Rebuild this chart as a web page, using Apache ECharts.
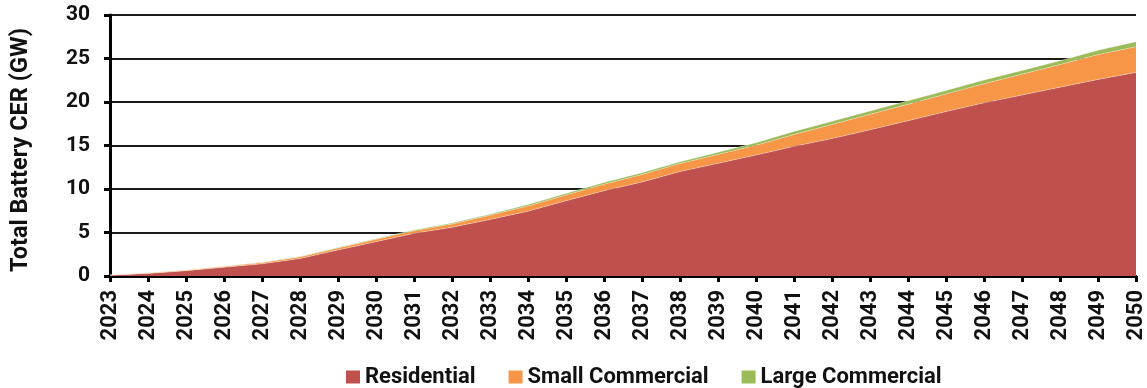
<!DOCTYPE html>
<html>
<head>
<meta charset="utf-8">
<script src="https://cdn.jsdelivr.net/npm/echarts@6/dist/echarts.min.js"></script>
<style>
  html, body { margin: 0; padding: 0; background: #fff; }
  #chart { width: 1147px; height: 388px; }
</style>
</head>
<body>
<div id="chart"></div>
<script>
// Installed battery capacity by customer segment, GW (stacked)
const years = ['2023','2024','2025','2026','2027','2028','2029','2030','2031','2032',
  '2033','2034','2035','2036','2037','2038','2039','2040','2041','2042',
  '2043','2044','2045','2046','2047','2048','2049','2050'];

const residential = [0.1, 0.3, 0.6, 1.0, 1.4, 2.0, 3.0, 3.95, 4.9, 5.6,
  6.5, 7.45, 8.65, 9.8, 10.8, 12.0, 12.95, 13.9, 14.9, 15.8,
  16.8, 17.85, 18.9, 19.9, 20.8, 21.7, 22.6, 23.4];

const smallCommercial = [0.01, 0.05, 0.08, 0.1, 0.14, 0.2, 0.22, 0.26, 0.3, 0.38,
  0.48, 0.6, 0.66, 0.74, 0.86, 0.92, 1.02, 1.12, 1.36, 1.62,
  1.78, 1.88, 2.02, 2.2, 2.4, 2.6, 2.85, 2.95];

const largeCommercial = [0.0, 0.01, 0.02, 0.03, 0.04, 0.05, 0.06, 0.08, 0.1, 0.1,
  0.12, 0.16, 0.18, 0.22, 0.22, 0.2, 0.25, 0.3, 0.36, 0.36,
  0.38, 0.4, 0.4, 0.42, 0.42, 0.45, 0.5, 0.58];

const yTicks = { min: 0, max: 30, interval: 5 };

const FONT = 'Roboto, "Liberation Sans", sans-serif';

function areaSeries(name, data, color) {
  return {
    name: name,
    type: 'line',
    stack: 'total',
    data: data,
    symbol: 'none',
    smooth: false,
    itemStyle: { color: color },
    lineStyle: { width: 0.6, color: 'rgba(255,255,255,0.55)' },
    areaStyle: { color: color, opacity: 1 },
    emphasis: { disabled: true }
  };
}

const chart = echarts.init(document.getElementById('chart'), null, { renderer: 'canvas' });

chart.setOption({
  animation: false,
  backgroundColor: '#ffffff',
  grid: { left: 110, right: 11, top: 15, bottom: 112, containLabel: false },
  legend: {
    top: 361,
    left: 341,
    icon: 'rect',
    itemWidth: 14,
    itemHeight: 13,
    itemGap: 33,
    textStyle: { fontFamily: FONT, fontWeight: 'bold', fontSize: 22, color: '#111' },
    data: ['Residential', 'Small Commercial', 'Large Commercial']
  },
  xAxis: {
    type: 'category',
    data: years,
    boundaryGap: false,
    axisLine: { show: true, lineStyle: { color: '#000', width: 3 } },
    axisTick: { show: true, length: 6, lineStyle: { color: '#000', width: 3 } },
    axisLabel: {
      rotate: 90,
      interval: 0,
      margin: 14,
      fontFamily: FONT,
      fontWeight: 'bold',
      fontSize: 22,
      color: '#111'
    },
    splitLine: { show: false }
  },
  yAxis: {
    type: 'value',
    min: yTicks.min,
    max: yTicks.max,
    interval: yTicks.interval,
    name: 'Total Battery CER (GW)',
    nameLocation: 'middle',
    nameGap: 77,
    nameRotate: 90,
    nameTextStyle: {
      fontFamily: FONT, fontWeight: 'bold', fontSize: 23.5, color: '#111',
      padding: [0, 9, 0, 0]
    },
    axisLine: { show: true, lineStyle: { color: '#000', width: 3 } },
    axisTick: { show: true, length: 6, lineStyle: { color: '#000', width: 3 } },
    axisLabel: {
      margin: 20,
      fontFamily: FONT,
      fontWeight: 'bold',
      fontSize: 21,
      color: '#111'
    },
    splitLine: { show: true, lineStyle: { color: '#1a1a1a', width: 2 } }
  },
  series: [
    areaSeries('Residential', residential, '#C0504D'),
    areaSeries('Small Commercial', smallCommercial, '#F79646'),
    areaSeries('Large Commercial', largeCommercial, '#9BBB59')
  ]
});
</script>
</body>
</html>
